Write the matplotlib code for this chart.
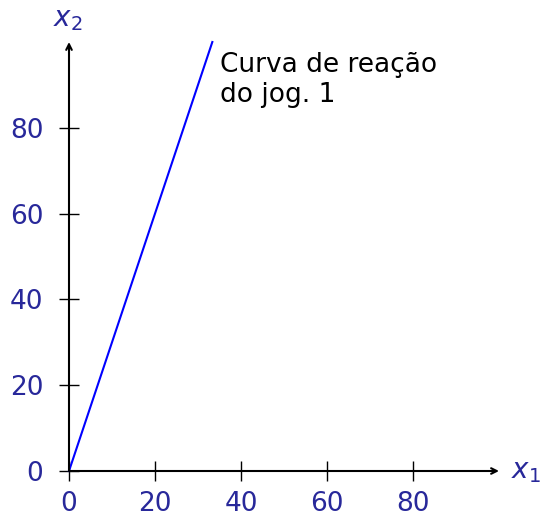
import numpy as np
import matplotlib.pyplot as plt

# reaction curve of player 1: x2 = 3 * x1
x1_vals = [0, 100 / 3]
x2_vals = [0, 100]
ticks = [0, 20, 40, 60, 80]
label_color = '#28289a'

fig = plt.figure(figsize=(5.42, 5.18), dpi=100)
ax = fig.add_axes([69 / 542, 1 - 471 / 518, 430 / 542, 429 / 518])

ax.plot(x1_vals, x2_vals, color='blue', linewidth=1.5, clip_on=False)

ax.set_xlim(0, 100)
ax.set_ylim(0, 100)
for s in ax.spines.values():
    s.set_visible(False)

# axes with arrows
ax.annotate('', xy=(100, 0), xytext=(0, 0),
            arrowprops=dict(arrowstyle='->', color='black', lw=1.5, shrinkA=0, shrinkB=0),
            annotation_clip=False)
ax.annotate('', xy=(0, 100), xytext=(0, 0),
            arrowprops=dict(arrowstyle='->', color='black', lw=1.5, shrinkA=0, shrinkB=0),
            annotation_clip=False)

ax.set_xticks(ticks)
ax.set_yticks(ticks)
ax.tick_params(direction='inout', length=15, width=1, labelsize=19,
               labelcolor=label_color)
ax.tick_params(axis='x', pad=7)
ax.tick_params(axis='y', pad=11)

ax.text(102.8, 0, '$x_1$', fontsize=20, color=label_color, ha='left', va='center')
ax.text(-0.3, 102, '$x_2$', fontsize=20, color=label_color, ha='center', va='bottom')

ax.text(35.1, 97.6, 'Curva de reação\ndo jog. 1', fontsize=19, color='black',
        ha='left', va='top')

fig.savefig('out.png', dpi=100)
